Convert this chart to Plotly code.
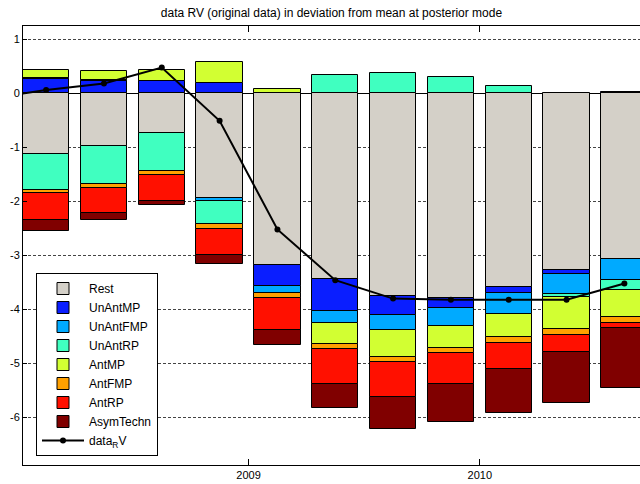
import plotly.graph_objects as go

# ---------------- data ----------------
periods = ["2008Q1", "2008Q2", "2008Q3", "2008Q4", "2009Q1", "2009Q2",
           "2009Q3", "2009Q4", "2010Q1", "2010Q2", "2010Q3"]
line_periods = ["2007Q4"] + periods

rest      = [-1.13, -0.97, -0.74, -1.94, -3.17, -3.43, -3.75, -3.78, -3.59, -3.28, -3.06]
unantmp   = [0.26, 0.23, 0.22, 0.19, -0.39, -0.60, -0.36, -0.20, -0.11, -0.07, 0.02]
unantfmp  = [0.03, 0.02, 0.01, -0.06, -0.14, -0.22, -0.27, -0.33, -0.39, -0.37, -0.40]
unantrp   = [-0.66, -0.70, -0.69, -0.42, 0.00, 0.34, 0.37, 0.30, 0.14, -0.05, -0.185]
antmp     = [0.14, 0.16, 0.20, 0.39, 0.07, -0.395, -0.51, -0.40, -0.43, -0.59, -0.49]
antfmp    = [-0.06, -0.075, -0.08, -0.086, -0.09, -0.086, -0.08, -0.10, -0.10, -0.12, -0.11]
antrp     = [-0.50, -0.475, -0.48, -0.48, -0.586, -0.65, -0.65, -0.57, -0.475, -0.30, -0.10]
asymtechn = [-0.20, -0.12, -0.07, -0.17, -0.29, -0.45, -0.59, -0.70, -0.82, -0.96, -1.11]
data_rv   = [-0.10, 0.06, 0.18, 0.475, -0.51, -2.52, -3.46, -3.80, -3.82, -3.82, -3.82, -3.52]

series_names = ["Rest", "UnAntMP", "UnAntFMP", "UnAntRP", "AntMP", "AntFMP", "AntRP", "AsymTechn"]
series_values = [rest, unantmp, unantfmp, unantrp, antmp, antfmp, antrp, asymtechn]
series_colors = ["#D4D0C8", "#0A1EFF", "#00AAFF", "#40FFC0", "#D2FF32", "#FFA000", "#FF1000", "#800000"]

ytick_vals = [1, 0, -1, -2, -3, -4, -5, -6]
ytick_text = ["1", "0", "-1", "-2", "-3", "-4", "-5", "-6"]
xtick_vals = [2009, 2010]
xtick_text = ["2009", "2010"]


def to_year(p):
    y, q = p.split("Q")
    return int(y) + (int(q) - 0.5) / 4.0


x_bars = [to_year(p) for p in periods]
x_line = [to_year(p) for p in line_periods]

FONT = "Liberation Sans, Arial, Helvetica, sans-serif"

fig = go.Figure()
for name, vals, col in zip(series_names, series_values, series_colors):
    fig.add_trace(go.Bar(
        x=x_bars, y=vals, name=name, width=0.2,
        marker=dict(color=col, line=dict(color="black", width=1)),
    ))

fig.add_trace(go.Scatter(
    x=x_line, y=data_rv, name="data<sub>R</sub>V", mode="lines+markers",
    line=dict(color="black", width=2),
    marker=dict(color="black", size=6, symbol="circle"),
))

fig.update_layout(
    width=640, height=484,
    margin=dict(l=23, r=0, t=26, b=19),
    barmode="relative",
    bargap=0,
    paper_bgcolor="white",
    plot_bgcolor="white",
    font=dict(family=FONT, size=11, color="black"),
    title=dict(
        text="data RV (original data) in deviation from mean at posterior mode",
        x=0.5, xref="paper", y=1 - 12.5 / 484, yref="container",
        xanchor="center", yanchor="middle",
        font=dict(family=FONT, size=12, color="black"),
    ),
    showlegend=True,
    legend=dict(
        x=(36 - 23) / 617, y=(465 - 273) / 439,
        xanchor="left", yanchor="top",
        bgcolor="white", bordercolor="black", borderwidth=1,
        traceorder="normal", tracegroupgap=0, itemwidth=42,
        font=dict(family=FONT, size=12, color="black"),
    ),
    xaxis=dict(
        range=[2008.025, 2008.025 + 617 / 231.3],
        tickvals=xtick_vals, ticktext=xtick_text,
        ticks="inside", ticklen=6, tickcolor="black", tickwidth=1,
        showline=True, linecolor="black", linewidth=1, mirror="allticks",
        showgrid=False, zeroline=False,
        tickfont=dict(family=FONT, size=11, color="black"),
    ),
    yaxis=dict(
        range=[-6.88, 1.245],
        tickvals=ytick_vals, ticktext=ytick_text,
        ticks="inside", ticklen=4, tickcolor="black", tickwidth=1,
        showline=True, linecolor="black", linewidth=1, mirror=False,
        showgrid=True, gridcolor="#444444", gridwidth=1, griddash="3px,2px",
        zeroline=True, zerolinecolor="black", zerolinewidth=1,
        tickfont=dict(family=FONT, size=11, color="black"),
    ),
)

fig.write_html("out.html")
